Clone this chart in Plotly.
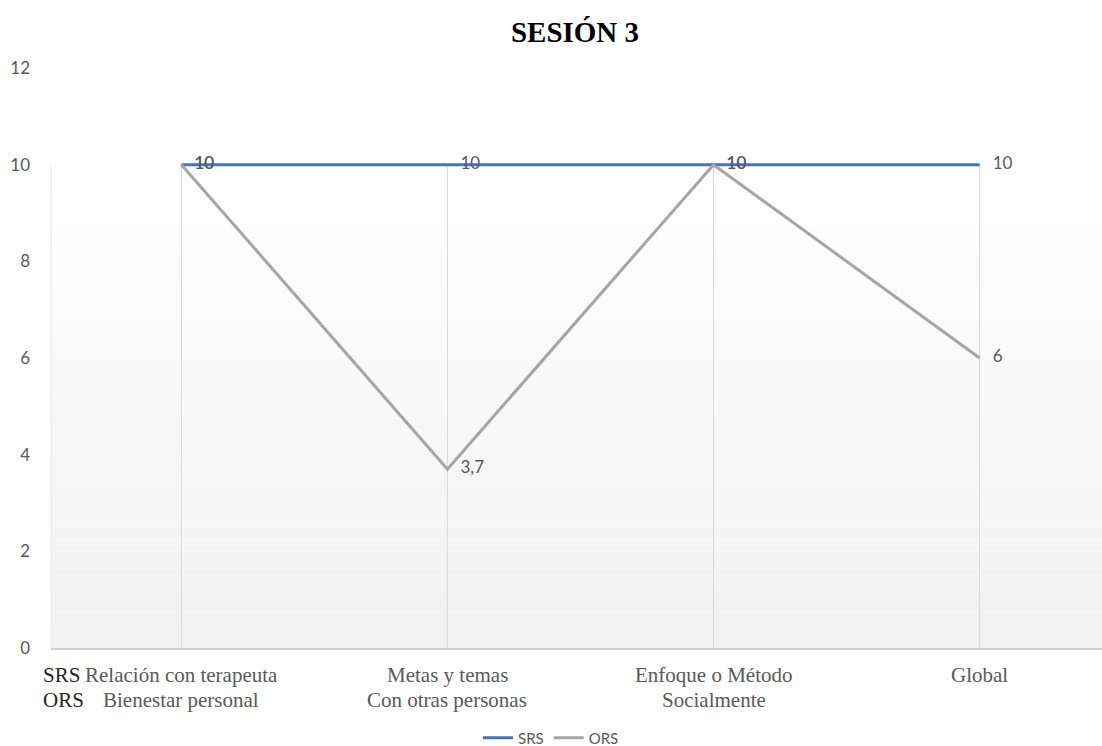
import plotly.graph_objects as go

categories = ["Relación con terapeuta", "Metas y temas", "Enfoque o Método", "Global"]
categories_ors = ["Bienestar personal", "Con otras personas", "Socialmente", ""]
srs_values = [10, 10, 10, 10]
ors_values = [10, 3.7, 10, 6]
srs_labels = ["10", "10", "10", "10"]
ors_labels = ["10", "3,7", "10", "6"]
y_ticks = [0, 2, 4, 6, 8, 10, 12]

x_idx = list(range(len(categories)))

fig = go.Figure()
fig.add_trace(go.Scatter(
    x=x_idx, y=srs_values, mode="lines+text", name="SRS",
    line=dict(color="#4472C4", width=3),
    text=srs_labels, texttemplate="   %{text}", textposition="middle right",
    textfont=dict(family="Lato", size=17, color="#595959"),
))
fig.add_trace(go.Scatter(
    x=x_idx, y=ors_values, mode="lines+text", name="ORS",
    line=dict(color="#A5A5A5", width=3),
    text=ors_labels, texttemplate="   %{text}", textposition="middle right",
    textfont=dict(family="Lato", size=17, color="#595959"),
))

W, Hfig = 1102, 746
plot_left, plot_top, plot_bottom = 51, 68, 648
H = plot_bottom - plot_top

shapes = []
n = 40
top = 10
for i in range(n):
    t = i / (n - 1)
    c = int(round(255 - (255 - 241) * (1 - t)))
    shapes.append(dict(type="rect", xref="paper", yref="y", x0=0, x1=1,
                       y0=top * i / n, y1=top * (i + 1) / n,
                       fillcolor=f"rgb({c},{c},{c})", line=dict(width=0), layer="below"))
shapes.append(dict(type="line", xref="paper", yref="y", x0=0, x1=0, y0=0, y1=top,
                   line=dict(color="#e6e6e6", width=1), layer="below"))
for xi in x_idx:
    shapes.append(dict(type="line", xref="x", yref="y", x0=xi, x1=xi, y0=0, y1=top,
                       line=dict(color="#d9d9d9", width=1), layer="below"))

serif = "Liberation Serif"
annotations = []
for xi, (a, b) in enumerate(zip(categories, categories_ors)):
    annotations.append(dict(x=xi, y=-(675 - plot_bottom) / H, xref="x", yref="paper", text=a,
                            showarrow=False, font=dict(family=serif, size=21, color="#595959"),
                            xanchor="center", yanchor="middle"))
    if b:
        annotations.append(dict(x=xi, y=-(700 - plot_bottom) / H, xref="x", yref="paper", text=b,
                                showarrow=False, font=dict(family=serif, size=21, color="#595959"),
                                xanchor="center", yanchor="middle"))
for txt, py in (("SRS", 675), ("ORS", 700)):
    annotations.append(dict(x=(41 - plot_left) / (W - plot_left), y=-(py - plot_bottom) / H,
                            xref="paper", yref="paper", text=txt, showarrow=False,
                            xanchor="left", yanchor="middle",
                            font=dict(family=serif, size=21, color="#262626")))

fig.update_layout(
    width=W, height=Hfig,
    margin=dict(l=plot_left, r=0, t=plot_top, b=Hfig - plot_bottom, autoexpand=False),
    paper_bgcolor="white", plot_bgcolor="white",
    title=dict(text="<b>SESIÓN 3</b>", x=575 / W, xanchor="center", y=1 - 32 / Hfig, yanchor="middle",
               font=dict(family=serif, size=29, color="#000000")),
    xaxis=dict(range=[-0.49, 3.46], showticklabels=False, showgrid=False, zeroline=False,
               showline=True, linecolor="#d0d0d0", linewidth=2, tickvals=x_idx, ticks=""),
    yaxis=dict(range=[0, 12], tickvals=y_ticks, showgrid=False, zeroline=False, showline=False,
               ticklabelstandoff=20,
               tickfont=dict(family="Lato", size=17, color="#595959")),
    legend=dict(orientation="h", x=(551 - plot_left) / (W - plot_left), xanchor="center",
                y=-(738 - plot_bottom) / H, yanchor="middle",
                font=dict(family="Lato", size=15, color="#595959"), itemwidth=30),
    shapes=shapes, annotations=annotations, showlegend=True,
)
fig.write_html("out.html")
